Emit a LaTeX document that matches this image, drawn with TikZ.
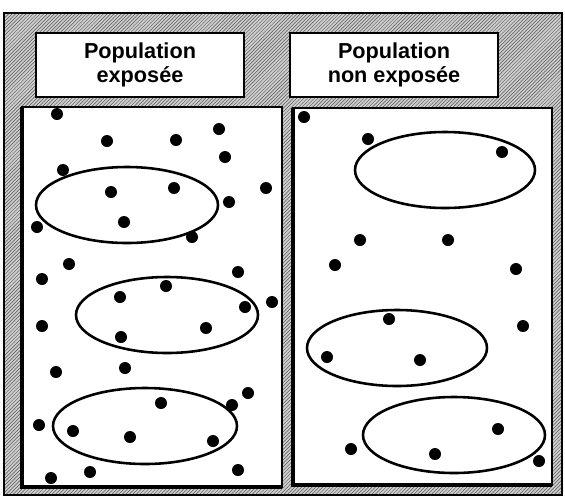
\documentclass[tikz,border=0pt]{standalone}
\usepackage{fontspec}
\setmainfont{Liberation Sans}
\usetikzlibrary{patterns}

\tikzset{
  labelbox/.style={draw,line width=1.6pt,fill=white,align=center,font=\bfseries\fontsize{18.5}{21}\selectfont,minimum width=178pt,minimum height=54pt,inner sep=0pt},
  panel/.style={draw,line width=1.8pt,fill=white},
  group/.style={line width=2.2pt}
}

\begin{document}
\begin{tikzpicture}[x=0.03cm,y=-0.03cm]
            \useasboundingbox (0,0) rectangle (565,497);
            % textured background
            \fill[gray!38] (4,13) rectangle (562,495);
            \fill[pattern=north east lines,pattern color=gray!65!black] (4,13) rectangle (562,495);
            \draw[line width=1.3pt] (4,13) rectangle (562,495);
            \node[labelbox] (exp) at (140,65) {Population\\exposée};
            \node[labelbox] (nonexp) at (394,65) {Population\\non exposée};
            % panels
            \draw[panel] (22,107) rectangle (282,487);
            \draw[line width=3pt] (22,107) -- (22,487) -- (282,487);
            \draw[panel] (293,108) rectangle (552,485);
            \draw[line width=3pt] (293,108) -- (293,485) -- (552,485);
            % groups
            \draw[group] (127,205) ellipse (91 and 38);
            \draw[group] (167,315) ellipse (91 and 38);
            \draw[group] (145,426) ellipse (92 and 38);
            \draw[group] (445,170) ellipse (90 and 38);
            \draw[group] (397,348) ellipse (90 and 38);
            \draw[group] (454,435) ellipse (91 and 38);
            % individuals, exposed
            \foreach \px/\py in {57/114,107/141,176/140,219/129,225/157,63/170,111/192,174/188,266/188,229/202,124/222,37/227,192/237,69/264,42/279,238/272,166/286,120/297,245/307,272/302,42/326,206/328,121/337,56/372,125/368,248/393,161/403,232/405,39/425,73/431,130/437,213/441,90/472,238/470,51/478}
              \fill (\px,\py) circle (6);
            % individuals, non exposed
            \foreach \px/\py in {304/117,368/139,502/152,360/240,448/240,335/265,516/269,389/319,523/326,327/357,420/360,498/429,351/449,435/454,539/461}
              \fill (\px,\py) circle (6);
\end{tikzpicture}
\end{document}
